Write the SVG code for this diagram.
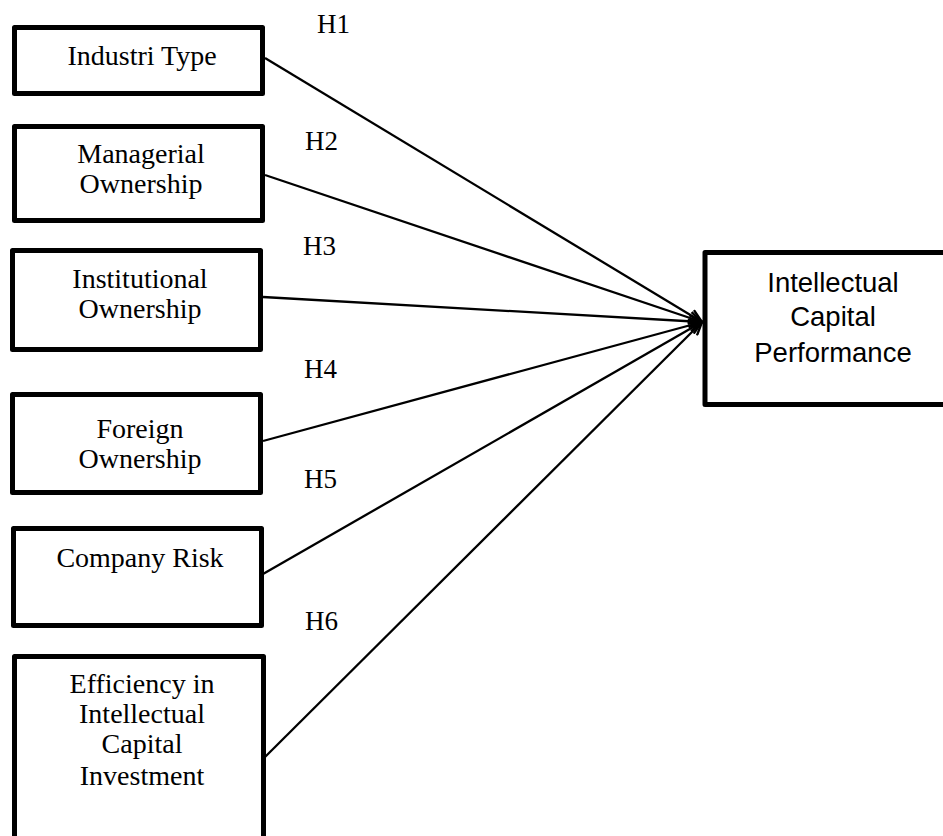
<svg xmlns="http://www.w3.org/2000/svg" width="943" height="836" viewBox="0 0 943 836">
<style>
.box{fill:#fff;stroke:#000;stroke-width:5;stroke-linejoin:round}
.t{font-family:"Liberation Serif","Times New Roman",serif;font-size:28px;fill:#000;text-anchor:middle}
.h{font-family:"Liberation Serif","Times New Roman",serif;font-size:27px;fill:#000}
.s{font-family:"Liberation Sans",Arial,sans-serif;font-size:27.5px;fill:#000;text-anchor:middle}
.c{stroke:#000;stroke-width:2.3;fill:none;marker-end:url(#arr)}
</style>
<defs>
<marker id="arr" markerUnits="userSpaceOnUse" markerWidth="16" markerHeight="14" viewBox="0 0 16 14" refX="14" refY="7" orient="auto">
<path d="M1,1 L14,7 L1,13" fill="none" stroke="#000" stroke-width="2.4"/>
</marker>
</defs>
<rect width="943" height="836" fill="#fff"/>
<g id="connectors">
<line class="c" x1="265" y1="58" x2="702" y2="322"/>
<line class="c" x1="265" y1="175" x2="702" y2="322"/>
<line class="c" x1="263" y1="297" x2="702" y2="322"/>
<line class="c" x1="263" y1="441" x2="702" y2="322"/>
<line class="c" x1="263" y1="574" x2="702" y2="322"/>
<line class="c" x1="265" y1="757" x2="702" y2="322"/>
</g>
<g id="labels">
<text class="h" x="317" y="33">H1</text>
<text class="h" x="305" y="150">H2</text>
<text class="h" x="303" y="255">H3</text>
<text class="h" x="304" y="378">H4</text>
<text class="h" x="304" y="488">H5</text>
<text class="h" x="305" y="630">H6</text>
</g>
<g id="industri-type">
<rect class="box" x="14.5" y="27.5" width="248" height="66"/>
<text class="t" x="142" y="65">Industri Type</text>
</g>
<g id="managerial-ownership">
<rect class="box" x="14.5" y="126.5" width="248" height="94"/>
<text class="t" x="141" y="163">Managerial</text>
<text class="t" x="141" y="193">Ownership</text>
</g>
<g id="institutional-ownership">
<rect class="box" x="12.5" y="250.5" width="248" height="99"/>
<text class="t" x="140" y="288">Institutional</text>
<text class="t" x="140" y="318">Ownership</text>
</g>
<g id="foreign-ownership">
<rect class="box" x="12.5" y="394.5" width="248" height="98"/>
<text class="t" x="140" y="438">Foreign</text>
<text class="t" x="140" y="468">Ownership</text>
</g>
<g id="company-risk">
<rect class="box" x="13.5" y="528.5" width="248" height="97"/>
<text class="t" x="140" y="567">Company Risk</text>
</g>
<g id="efficiency">
<rect class="box" x="14.5" y="656.5" width="249" height="200"/>
<text class="t" x="142" y="693">Efficiency in</text>
<text class="t" x="142" y="723">Intellectual</text>
<text class="t" x="142" y="753">Capital</text>
<text class="t" x="142" y="785">Investment</text>
</g>
<g id="icp">
<rect class="box" x="705" y="252.5" width="260" height="152"/>
<text class="s" x="833" y="292">Intellectual</text>
<text class="s" x="833" y="326">Capital</text>
<text class="s" x="833" y="362">Performance</text>
</g>
</svg>
